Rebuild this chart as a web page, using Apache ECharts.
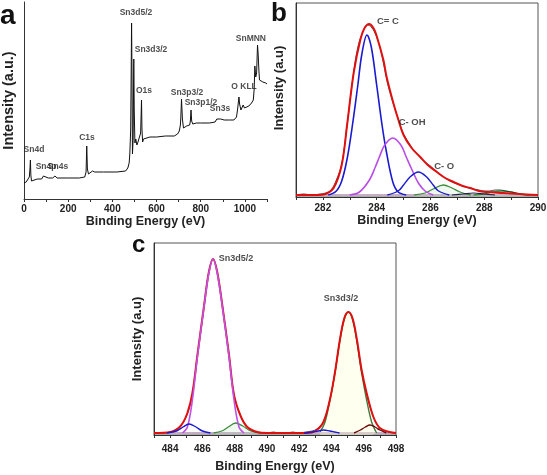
<!DOCTYPE html>
<html>
<head>
<meta charset="utf-8">
<script src="https://cdn.jsdelivr.net/npm/echarts@6/dist/echarts.min.js"></script>
<style>
html,body{margin:0;padding:0;background:#fff;}
#chart{width:547px;height:475px;}
</style>
</head>
<body>
<div id="chart"></div>
<script>
// ---------- Panel a: XPS survey (Binding energy eV, intensity a.u.) ----------
const surveyA = [[0,16],[10,17],[18,19],[24,22],[27,30],[29,39],[31,24],[34,18],[40,19],[60,20],[80,20],[88,23],[95,22],[110,21],[130,21],[140,23],[150,21],[200,21],[250,21],[275,22],[281,27],[284,53],[287,30],[292,25],[300,24],[310,28],[320,27],[360,27],[420,27],[460,28],[470,31],[476,36],[479,45],[483,70],[487,176],[489,120],[491,45],[494,60],[497,140],[499,90],[502,56],[506,60],[511,54],[516,57],[522,58],[528,66],[532,99],[534,70],[537,57],[541,60],[550,62],[570,62],[600,62],[640,63],[680,63],[695,65],[703,68],[708,74],[710,82],[713,100],[717,80],[722,71],[736,73],[750,74],[753,78],[756,89],[759,78],[764,75],[780,76],[800,76],[840,76],[865,77],[873,80],[878,82],[890,80],[906,79],[930,79],[950,79],[962,82],[967,90],[973,102],[976,95],[982,89],[988,91],[992,94],[998,91],[1005,91],[1018,93],[1030,96],[1038,99],[1042,110],[1045,133],[1049,122],[1053,126],[1057,154],[1060,145],[1063,130],[1066,119],[1072,117],[1081,117],[1087,118],[1094,116],[1100,115]];
const xTicksA = [0,200,400,600,800,1000];
const labelsA = [["Sn4d",45,49],["Sn4p",100,32],["Sn4s",154,32],["C1s",285,61],["Sn3d5/2",507,186],["Sn3d3/2",575,149],["O1s",543,108],["Sn3p3/2",738,106],["Sn3p1/2",801,96],["Sn3s",887,90],["O KLL",996,112],["SnMNN",1027,160]];

// ---------- Panel b: C1s ----------
const rawB = [[281.0,2],[281.3,3],[281.6,2],[281.9,3],[282.1,4],[282.3,7],[282.5,17],[282.7,33],[282.9,72],[283.1,116],[283.3,150],[283.5,166],[283.65,172],[283.8,170],[284.0,160],[284.2,141],[284.4,114],[284.6,95],[284.8,78],[285.0,63],[285.2,54],[285.4,46],[285.6,40],[285.8,35],[286.0,31],[286.2,26],[286.4,22],[286.6,18],[286.8,15],[287.0,13],[287.2,11],[287.4,9],[287.6,8],[287.8,7],[288.0,6],[288.2,6],[288.4,7],[288.6,7],[288.8,6],[289.0,5],[289.2,4],[289.4,3],[289.6,2],[289.8,2],[290.0,2]];
const envB = [[281.0,2],[281.8,2],[282.1,3],[282.4,9],[282.7,32],[282.9,72],[283.15,125],[283.4,158],[283.55,169],[283.72,173],[283.88,169],[284.0,161],[284.25,137],[284.37,120],[284.62,94],[284.81,77],[285.0,62],[285.3,49],[285.62,40],[285.9,32],[286.24,25],[286.55,19],[286.86,15],[287.2,11],[287.48,9],[287.8,6],[288.1,5],[288.7,4],[289.3,3],[290.0,2]];
const ccB = [[282.2,2],[282.5,6],[282.7,16],[282.9,38],[283.1,72],[283.3,112],[283.45,143],[283.64,162],[283.8,150],[284.0,112],[284.2,72],[284.35,47],[284.6,15],[284.8,5],[285.1,2]];
const cohB = [[283.0,2],[283.36,5],[283.73,17],[283.95,30],[284.1,40],[284.3,52],[284.6,59],[284.9,52],[285.1,40],[285.3,28],[285.55,14],[285.8,6],[286.1,2]];
const coB = [[284.4,2],[284.8,6],[285.0,12],[285.24,20],[285.55,25],[285.86,20],[286.1,12],[286.3,6],[286.7,2]];
const g1B = [[285.4,2],[285.8,4],[286.1,8],[286.48,12],[286.8,9],[287.1,5],[287.5,2]];
const k1B = [[286.8,2],[287.2,3],[287.6,4],[288.0,3],[288.4,2]];
const g2B = [[287.6,2],[288.0,3],[288.3,5],[288.65,6],[289.0,5],[289.3,3],[289.7,2]];
const baseB = [[281.0,2],[290.0,2]];
const labelsB = [["C= C",284.42,176],["C- OH",285.32,75],["C- O",286.51,31]];

// ---------- Panel c: Sn3d ----------
const rawC = [[483.0,2],[483.5,2],[484.0,3],[484.3,5],[484.65,9],[485.07,21],[485.38,41],[485.69,79],[486.1,128],[486.4,163],[486.66,176],[486.92,163],[487.24,129],[487.65,80],[487.96,40],[488.37,19],[488.78,8],[489.0,5],[489.3,3],[489.6,2],[490.0,2],[490.4,3],[490.8,2],[491.2,2],[491.6,3],[492.0,2],[492.4,3],[492.8,4],[493.1,6],[493.5,13],[493.91,36],[494.22,63],[494.53,96],[494.8,117],[495.05,123],[495.3,117],[495.56,96],[495.87,64],[496.18,41],[496.6,18],[497.0,7],[497.5,3],[498.0,2]];
const envC = [[483.0,2],[484.03,3],[484.65,9],[485.07,22],[485.38,42],[485.69,80],[486.1,129],[486.4,163],[486.66,176],[486.92,163],[487.24,129],[487.65,80],[487.96,40],[488.37,19],[488.78,8],[489.4,3],[490.0,2],[492.5,2],[493.0,4],[493.5,13],[493.91,36],[494.22,63],[494.53,96],[494.8,117],[495.05,123],[495.3,117],[495.56,97],[495.87,65],[496.18,42],[496.6,18],[497.0,7],[497.6,3],[498.0,2]];
const d52C = [[484.76,2],[485.07,8],[485.38,35],[485.69,78],[486.1,128],[486.4,162],[486.66,176],[486.92,162],[487.24,128],[487.65,78],[487.96,35],[488.27,8],[488.58,2]];
const b1C = [[483.8,2],[484.4,4],[484.8,8],[485.17,11],[485.6,8],[486.0,4],[486.5,2]];
const g1C = [[486.7,2],[487.2,4],[487.6,8],[488.06,12],[488.5,9],[489.0,4],[489.6,2]];
const d32C = [[493.29,3],[493.6,13],[493.91,35],[494.22,62],[494.53,95],[494.8,116],[495.05,123],[495.3,116],[495.56,95],[495.87,62],[496.18,35],[496.49,13],[496.8,2]];
const b2C = [[492.3,2],[492.8,3],[493.2,4],[493.5,5],[493.9,4],[494.2,3],[494.5,2]];
const r2C = [[495.4,2],[495.8,5],[496.1,8],[496.39,10],[496.7,8],[497.0,5],[497.4,2]];
const baseC = [[483.0,2],[498.0,2]];
const labelsC = [["Sn3d5/2",488.08,176],["Sn3d3/2",494.59,136]];

const FONT = "'Liberation Sans', Arial, sans-serif";
const AX = '#333';

function xAxisCfg(gi, min, max, interval, every, nameGap, margin) {
  return {
    type: 'value', gridIndex: gi, min: min, max: max, interval: interval,
    name: 'Binding Energy (eV)', nameLocation: 'middle', nameGap: nameGap,
    nameTextStyle: {fontFamily: FONT, fontWeight: 'bold', fontSize: 12.5, color: '#222'},
    axisLine: {show: true, onZero: false, lineStyle: {color: AX, width: 1}},
    axisTick: {show: true, inside: false, length: 3, lineStyle: {color: AX}},
    axisLabel: {show: true, margin: margin, fontFamily: FONT, fontWeight: 'bold', fontSize: 10, color: '#222',
      showMinLabel: true, showMaxLabel: true,
      formatter: v => (Math.round(v) % every === 0 ? String(Math.round(v)) : '')},
    splitLine: {show: false}
  };
}
function yAxisCfg(gi, max, name, gap, pad, size) {
  return {
    type: 'value', gridIndex: gi, min: 0, max: max,
    name: name, nameLocation: 'middle', nameGap: gap, nameRotate: 90,
    nameTextStyle: {fontFamily: FONT, fontWeight: 'bold', fontSize: size, color: '#222', padding: pad},
    axisLine: {show: true, onZero: false, lineStyle: {color: AX, width: 1}},
    axisTick: {show: false}, axisLabel: {show: false}, splitLine: {show: false}
  };
}
function line(data, gi, color, width, z, area) {
  const s = {type: 'line', xAxisIndex: gi, yAxisIndex: gi, data: data, showSymbol: false, symbol: 'none',
    smooth: gi === 0 ? false : 0.35, lineStyle: {color: color, width: width}, z: z, silent: true, animation: false};
  if (area) s.areaStyle = {color: area, origin: 'start'};
  return s;
}
function labels(arr, gi, size) {
  return {type: 'scatter', xAxisIndex: gi, yAxisIndex: gi, symbolSize: 1, itemStyle: {color: 'rgba(0,0,0,0)'},
    z: 20, silent: true, animation: false,
    data: arr.map(a => ({name: a[0], value: [a[1], a[2]]})),
    label: {show: true, position: 'inside', formatter: '{b}', fontFamily: FONT, fontWeight: 'bold', fontSize: size, color: '#222'}};
}

const chart = echarts.init(document.getElementById('chart'), null, {renderer: 'canvas'});
chart.setOption({
  backgroundColor: '#fff',
  animation: false,
  grid: [
    {left: 24, top: 2, width: 243, height: 197, containLabel: false, outerBoundsMode: 'none', show: false},
    {left: 296, top: 3, width: 242, height: 194, containLabel: false, outerBoundsMode: 'none', show: true, borderColor: '#555', borderWidth: 1},
    {left: 154, top: 243, width: 242, height: 192, containLabel: false, outerBoundsMode: 'none', show: true, borderColor: '#555', borderWidth: 1}
  ],
  xAxis: [
    xAxisCfg(0, 0, 1100, 100, 200, 16, 5),
    xAxisCfg(1, 281, 290, 1, 2, 16, 6),
    xAxisCfg(2, 483, 498, 1, 2, 25, 9)
  ],
  yAxis: [
    yAxisCfg(0, 197, 'Intensity (a.u.)', 8, [0,0,0,0], 14.5),
    yAxisCfg(1, 194, 'Intensity (a.u)', 10, [0,0,0,24], 13),
    yAxisCfg(2, 192, 'Intensity (a.u)', 10, [0,0,0,0], 13)
  ],
  graphic: [
    {type: 'text', x: 0, y: 16, style: {text: 'a', font: 'bold 28px ' + FONT, fill: '#111', textVerticalAlign: 'middle'}},
    {type: 'text', x: 271, y: 14, style: {text: 'b', font: 'bold 26px ' + FONT, fill: '#111', textVerticalAlign: 'middle'}},
    {type: 'text', x: 132, y: 245, style: {text: 'c', font: 'bold 24px ' + FONT, fill: '#111', textVerticalAlign: 'middle'}}
  ],
  series: [
    line(surveyA, 0, '#111', 1, 2),
    labels(labelsA, 0, 8.5),

    line(baseB, 1, '#8a5a8a', 1, 1),
    line(g1B, 1, '#3c8c3c', 1.3, 3, 'rgba(180,225,180,0.3)'),
    line(g2B, 1, '#3c8c3c', 1.3, 3, 'rgba(180,225,180,0.3)'),
    line(rawB, 1, '#222', 0.8, 4),
    line(envB, 1, '#e01010', 2, 5),
    line(ccB, 1, '#1a1ad0', 1.6, 6),
    line(cohB, 1, '#b84ee6', 1.6, 6),
    line(coB, 1, '#1a1ad0', 1.4, 6),
    line(k1B, 1, '#222244', 1.2, 6),
    labels(labelsB, 1, 9.5),

    line(baseC, 2, '#8a5a8a', 1, 1),
    line(d32C, 2, '#3e7a3a', 1.4, 3, 'rgba(255,255,215,0.55)'),
    line(g1C, 2, '#3c8c3c', 1.3, 3, 'rgba(180,225,180,0.3)'),
    line(rawC, 2, '#222', 0.8, 4),
    line(envC, 2, '#e01010', 2, 5),
    line(d52C, 2, '#c050e8', 1.6, 6),
    line(b1C, 2, '#1a1ad0', 1.4, 6),
    line(b2C, 2, '#1a1ad0', 1.4, 6),
    line(r2C, 2, '#6a0a0a', 1.4, 6),
    labels(labelsC, 2, 9)
  ]
});
</script>
</body>
</html>
